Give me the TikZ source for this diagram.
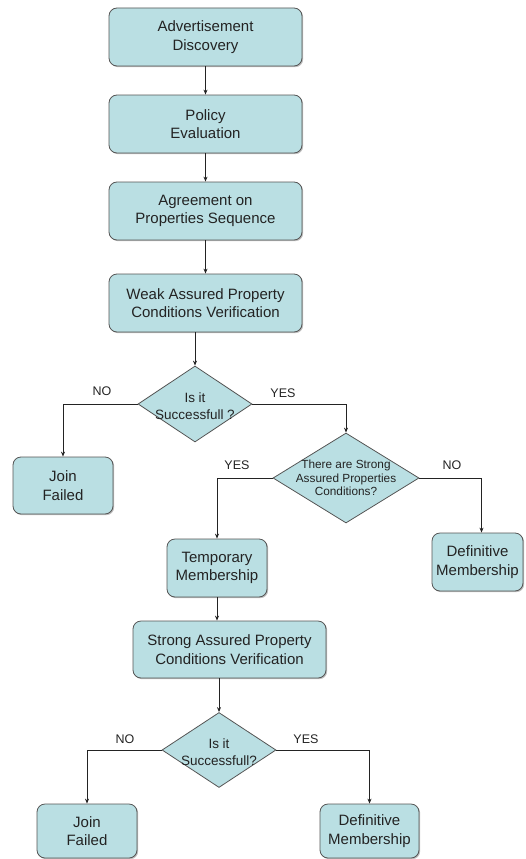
\documentclass[tikz,border=0pt]{standalone}
\usepackage{fontspec}
\setmainfont{Liberation Sans}
\usetikzlibrary{shapes.geometric,arrows.meta,shadows}

\definecolor{boxfill}{RGB}{186,223,227}
\definecolor{boxline}{RGB}{85,85,85}
\definecolor{ink}{RGB}{35,35,35}

\tikzset{
  stepbox/.style={draw=boxline, line width=0.8pt, fill=boxfill, rounded corners=8pt,
    align=center, text=ink, inner sep=0pt,
    font=\fontsize{15}{18.5}\selectfont,
    drop shadow={shadow xshift=1.2pt, shadow yshift=-1.2pt, fill=black, opacity=0.25}},
  decision/.style={draw=boxline, line width=0.8pt, fill=boxfill, diamond, inner sep=0pt},
  qtext/.style={align=center, text=ink, font=\fontsize{13.5}{17}\selectfont},
  qsmall/.style={align=center, text=ink, font=\fontsize{11.8}{13.6}\selectfont},
  branch/.style={text=ink, font=\fontsize{12.5}{14}\selectfont},
  arr/.style={draw=ink, line width=0.8pt, -{Stealth[length=5pt,width=4pt]}}
}

\begin{document}
\begin{tikzpicture}[x=1pt,y=-1pt]
\useasboundingbox (0,0) rectangle (526,859);

% main sequence
\node[stepbox, minimum width=193pt, minimum height=58pt] (b1) at (205.5,37) {Advertisement\\Discovery};
\node[stepbox, minimum width=193pt, minimum height=58pt] (b2) at (205.5,124) {Policy\\Evaluation};
\node[stepbox, minimum width=193pt, minimum height=58pt] (b3) at (205.5,211) {Agreement on\\Properties Sequence};
\node[stepbox, minimum width=193pt, minimum height=58pt] (b4) at (205.5,303) {Weak Assured Property\\Conditions Verification};

% first decision
\node[decision, minimum width=114pt, minimum height=76pt] (d1) at (195,404) {};
\node[qtext] (d1t) at (195,406) {Is it\\Successfull ?};
\node[stepbox, minimum width=100pt, minimum height=57pt] (jf1) at (63,485.5) {Join\\Failed};

% second decision
\node[decision, minimum width=146pt, minimum height=90pt] (d2) at (346,478) {};
\node[qsmall] (d2t) at (346,478) {There are Strong\\Assured Properties\\Conditions?};
\node[stepbox, minimum width=100pt, minimum height=58pt] (tm) at (217,568) {Temporary\\Membership};
\node[stepbox, minimum width=91pt, minimum height=58pt] (dm1) at (477.5,562) {Definitive\\Membership};

% strong verification and third decision
\node[stepbox, minimum width=193pt, minimum height=57pt] (sv) at (229.5,649.5) {Strong Assured Property\\Conditions Verification};
\node[decision, minimum width=114pt, minimum height=75pt] (d3) at (219,750) {};
\node[qtext] (d3t) at (219,752) {Is it\\Successfull?};
\node[stepbox, minimum width=100pt, minimum height=54pt] (jf2) at (87,831) {Join\\Failed};
\node[stepbox, minimum width=99pt, minimum height=54pt] (dm2) at (369.5,831) {Definitive\\Membership};

% connectors
\draw[arr] (b1) -- (b2);
\draw[arr] (b2) -- (b3);
\draw[arr] (b3) -- (b4);
\draw[arr] (b4.south -| d1.north) -- (d1.north);
\draw[arr] (d1.west) -| (jf1.north);
\draw[arr] (d1.east) -| (d2.north);
\draw[arr] (d2.west) -| (tm.north);
\draw[arr] (d2.east) -| ([xshift=4pt]dm1.north);
\draw[arr] (tm.south) -- (tm.south |- sv.north);
\draw[arr] (sv.south -| d3.north) -- (d3.north);
\draw[arr] (d3.west) -| (jf2.north);
\draw[arr] (d3.east) -| (dm2.north);

% branch labels
\node[branch] (l1) at (102,391) {NO};
\node[branch] (l2) at (283,393) {YES};
\node[branch] (l3) at (237,465) {YES};
\node[branch] (l4) at (452,465) {NO};
\node[branch] (l5) at (125,739) {NO};
\node[branch] (l6) at (306,739) {YES};
\end{tikzpicture}
\end{document}
